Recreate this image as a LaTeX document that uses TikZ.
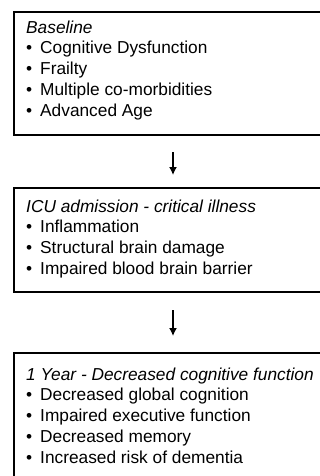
\documentclass[tikz,border=0pt]{standalone}
\usepackage{fontspec}
\setmainfont{Liberation Sans}
\usetikzlibrary{arrows.meta,positioning}

\newcommand{\itm}[1]{\makebox[14pt][l]{\textbullet}#1}

\begin{document}
\begin{tikzpicture}[x=1pt, y=-1pt,
    stage/.style={draw=black, line width=2.2pt, outer sep=0pt, inner sep=0pt, minimum width=318pt},
    stagetext/.style={anchor=north west, inner sep=0pt, align=left, font=\fontsize{17.3}{20.7}\selectfont},
    arr/.style={-{Latex[length=8pt,width=8pt]}, line width=1.4pt}
]
\clip (0,0) rectangle (320,476);

% boxes
\node[stage, minimum height=123pt] (base) at (173,73.5) {};
\node[stage, minimum height=104pt] (icu) at (173,240) {};
\node[stage, minimum height=150pt] (year) at (173,428) {};

% texts
\node[stagetext] (basetxt) at ([shift={(12,8.5)}]base.north west)
  {\textit{Baseline}\\ \itm{Cognitive Dysfunction}\\ \itm{Frailty}\\ \itm{Multiple co-morbidities}\\ \itm{Advanced Age}};
\node[stagetext] (icutxt) at ([shift={(12,11.5)}]icu.north west)
  {\textit{ICU admission - critical illness}\\ \itm{Inflammation}\\ \itm{Structural brain damage}\\ \itm{Impaired blood brain barrier}};
\node[stagetext] (yeartxt) at ([shift={(12,14.5)}]year.north west)
  {\textit{1 Year - Decreased cognitive function}\\ \itm{Decreased global cognition}\\ \itm{Impaired executive function}\\ \itm{Decreased memory}\\ \itm{Increased risk of dementia}};

% arrows
\draw[arr, shorten <=17pt, shorten >=13pt] (base.south) -- (icu.north);
\draw[arr, shorten <=18pt, shorten >=17pt] (icu.south) -- (year.north);
\end{tikzpicture}
\end{document}
